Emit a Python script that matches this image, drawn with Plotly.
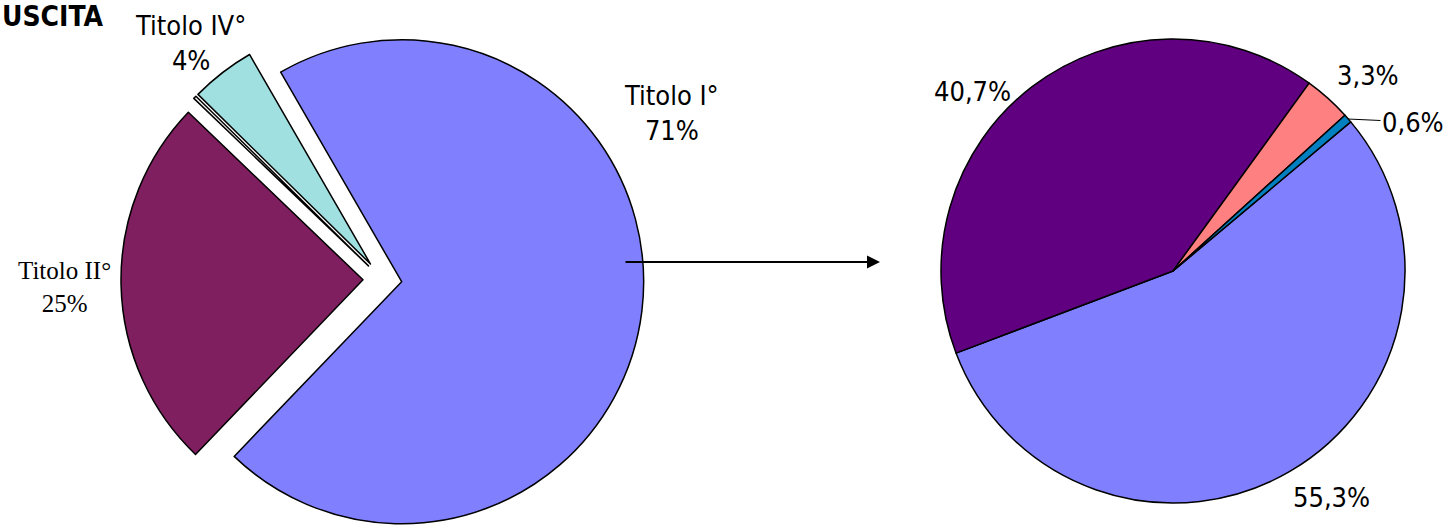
import math
import numpy as np
import plotly.graph_objects as go

# ---------------- data ----------------
left_labels = ["Titolo I°", "Titolo II°", "Titolo III°", "Titolo IV°"]
left_values = [70.5, 25.0, 0.2, 4.3]
left_pct_text = ["71%", "25%", "", "4%"]
left_colors = ["#8080FF", "#7F1F5F", "#F2F2F2", "#A0E0E0"]

right_labels = ["Voce 1", "Voce 2", "Voce 3", "Voce 4"]
right_values = [55.3, 40.7, 3.3, 0.6]
right_pct_text = ["55,3%", "40,7%", "3,3%", "0,6%"]
right_colors = ["#8080FF", "#600080", "#FF8080", "#0080C0"]

title_text = "USCITA"

# ---------------- layout constants ----------------
W, H = 1443, 526
LEFT_C = (382.4, 279.4)
LEFT_R = 242
EXPLODE = 19.4
LEFT_ROT = -30
RIGHT_C = (1173, 271)
RIGHT_R = 232
RIGHT_ROT = 50

SANS = "Liberation Sans Narrow, Arial Narrow, DejaVu Sans Condensed, Liberation Sans, Arial, sans-serif"
SERIF = "Liberation Serif, Times New Roman, serif"
TRANSP = "rgba(0,0,0,0)"


def px(x, y):
    return x / W, 1 - y / H


def domain_for(cx, cy, r):
    x0, x1 = (cx - r) / W, (cx + r) / W
    y0, y1 = 1 - (cy + r) / H, 1 - (cy - r) / H
    clamp = lambda v: min(1.0, max(0.0, v))
    return dict(x=[clamp(x0), clamp(x1)], y=[clamp(y0), clamp(y1)])


fig = go.Figure()

# Left pie: every slice exploded from the common centre along its bisector
vals = np.array(left_values, dtype=float)
total = vals.sum()
cum = np.cumsum(vals)
for i in range(len(vals)):
    mid = math.radians(LEFT_ROT + 360 * (cum[i] - vals[i] / 2) / total)
    cx = LEFT_C[0] + EXPLODE * math.sin(mid)
    cy = LEFT_C[1] - EXPLODE * math.cos(mid)
    colors = [left_colors[j] if j == i else TRANSP for j in range(len(vals))]
    widths = [1.5 if j == i else 0 for j in range(len(vals))]
    fig.add_trace(go.Pie(
        labels=left_labels, values=left_values, sort=False,
        direction="clockwise", rotation=LEFT_ROT,
        marker=dict(colors=colors, line=dict(color="black", width=widths)),
        textinfo="none", hoverinfo="label+percent", showlegend=False,
        domain=domain_for(cx, cy, LEFT_R),
    ))

# Right pie
fig.add_trace(go.Pie(
    labels=right_labels, values=right_values, sort=False,
    direction="clockwise", rotation=RIGHT_ROT,
    marker=dict(colors=right_colors, line=dict(color="black", width=1.5)),
    textinfo="none", hoverinfo="label+percent", showlegend=False,
    domain=domain_for(RIGHT_C[0], RIGHT_C[1], RIGHT_R),
))

ann = []


def text_ann(x, y, text, family=SANS, size=27, xanchor="center", **kw):
    xx, yy = px(x, y)
    d = dict(x=xx, y=yy, xref="paper", yref="paper", text=text, showarrow=False,
             font=dict(family=family, size=size, color="black"), align="center",
             xanchor=xanchor, yanchor="middle")
    d.update(kw)
    ann.append(d)


text_ann(671, 113, f"{left_labels[0]}<br>{left_pct_text[0]}")
text_ann(64, 287, f"{left_labels[1]}<br>{left_pct_text[1]}", family=SERIF, size=25)
text_ann(190, 43, f"{left_labels[3]}<br>{left_pct_text[3]}")
text_ann(0, 16, f"<b>{title_text}</b>", size=28, xanchor="left")

text_ann(973, 92, right_pct_text[1])
text_ann(1368, 75, right_pct_text[2])
text_ann(1331, 497, right_pct_text[0])

# leader line for 0,6%
tx, ty = px(1348, 119)
ann.append(dict(x=tx, y=ty, xref="paper", yref="paper", text=right_pct_text[3],
                showarrow=True, arrowhead=0, arrowwidth=1, arrowcolor="black",
                ax=65, ay=3, standoff=0, xanchor="center", yanchor="middle",
                font=dict(family=SANS, size=27, color="black")))

# connecting arrow
ax_, ay_ = px(880, 262)
ann.append(dict(x=ax_, y=ay_, xref="paper", yref="paper", text="",
                showarrow=True, arrowhead=2, arrowsize=1.3, arrowwidth=2,
                arrowcolor="black", ax=-256, ay=0, standoff=0))

fig.update_layout(
    width=W, height=H, autosize=False,
    margin=dict(l=0, r=0, t=0, b=0),
    paper_bgcolor="white", plot_bgcolor="white",
    annotations=ann,
)

fig.write_html("out.html")
